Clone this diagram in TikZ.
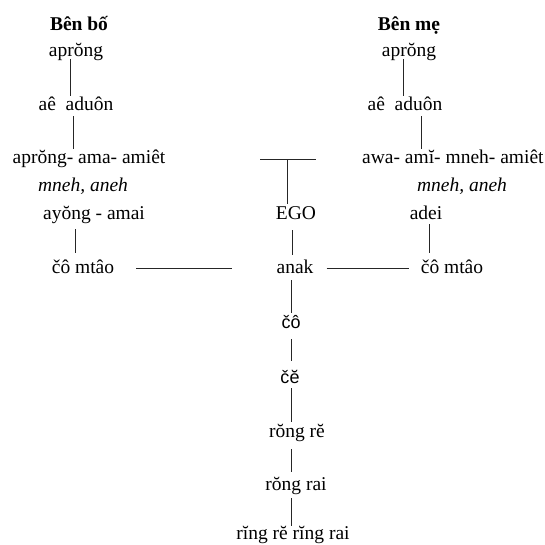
\documentclass[tikz,border=0pt]{standalone}
\usepackage{fontspec}
\setmainfont{Liberation Serif}
\newfontfamily\sansf{Liberation Sans}
\tikzset{
  lbl/.style={inner sep=1pt, text height=14pt, text depth=4pt, font=\fontsize{19.5}{22}\selectfont},
  hd/.style={lbl, font=\fontsize{19.5}{22}\selectfont\bfseries},
  it/.style={lbl, font=\fontsize{19.5}{22}\selectfont\itshape},
  sn/.style={lbl, font=\fontsize{18}{22}\selectfont\sansf},
  ln/.style={line width=1pt, draw=black!85}
}
\begin{document}
\begin{tikzpicture}[x=1pt,y=-1pt]
\useasboundingbox (0,0) rectangle (545,545);
% headers
\node[hd] (Lh) at (79,26) {Bên bố};
\node[hd] (Rh) at (409,26) {Bên mẹ};
% left column
\node[lbl] (La1) at (76,52) {aprŏng};
\node[lbl] (La2) at (76,106) {aê\ \ aduôn};
\node[lbl] (La3) at (89,159) {aprŏng- ama- amiêt};
\node[it]  (Lm)  at (83,187) {mneh, aneh};
\node[lbl] (La4) at (94,214) {ayŏng - amai};
\node[lbl] (La5) at (83,268) {čô mtâo};
% right column
\node[lbl] (Ra1) at (409,52) {aprŏng};
\node[lbl] (Ra2) at (405,106) {aê\ \ aduôn};
\node[lbl,anchor=west] (Ra3) at (361,159) {awa- amĭ- mneh- amiêt};
\node[it]  (Rm)  at (462,187) {mneh, aneh};
\node[lbl] (Ra4) at (426,214) {adei};
\node[lbl] (Ra5) at (452,268) {čô mtâo};
% center
\node[lbl] (ego) at (296,214) {EGO};
\node[lbl] (anak) at (295,268) {anak};
\node[sn] (c1) at (291,323) {čô};
\node[sn] (c2) at (290,378) {čĕ};
\node[lbl] (c3) at (297,432) {rŏng rĕ};
\node[lbl] (c4) at (296,485) {rŏng rai};
\node[lbl] (c5) at (293,534) {rĭng rĕ rĭng rai};
% T bar
\coordinate (Tl) at (260,160);
\coordinate (Tr) at (316,160);
\coordinate (Tm) at (287,160);
\draw[ln] (Tl) -- (Tr);
\draw[ln] (Tm) -- (Tm |- ego.north);
% left verticals
\coordinate (p1) at ([xshift=-6pt]La1.south);
\draw[ln, shorten <=-3pt] (p1) -- (p1 |- La2.north);
\coordinate (p2) at ([xshift=-3pt]La2.south);
\draw[ln] (p2) -- (p2 |- La3.north);
\coordinate (p3) at ([xshift=-19pt]La4.south);
\draw[ln, shorten <=5pt, shorten >=5pt] (p3) -- (p3 |- La5.north);
% right verticals
\coordinate (q1) at ([xshift=-6pt]Ra1.south);
\draw[ln, shorten <=-3pt] (q1) -- (q1 |- Ra2.north);
\coordinate (q2) at ([xshift=16pt]Ra2.south);
\draw[ln] (q2) -- (q2 |- Ra3.north);
\coordinate (q3) at ([xshift=3pt]Ra4.south);
\draw[ln, shorten >=5pt] (q3) -- (q3 |- Ra5.north);
% center verticals
\coordinate (m1) at ([xshift=-4pt]ego.south);
\draw[ln, shorten <=6pt, shorten >=3pt] (m1) -- (m1 |- anak.north);
\coordinate (m2) at ([xshift=-4pt]anak.south);
\draw[ln, shorten <=2pt] (m2) -- (m2 |- c1.north);
\coordinate (m3) at (c1.south);
\draw[ln, shorten <=6pt, shorten >=7pt] (m3) -- (m3 |- c2.north);
\coordinate (m4) at ([xshift=1pt]c2.south);
\draw[ln] (m4) -- (m4 |- c3.north);
\coordinate (m5) at ([xshift=-6pt]c3.south);
\draw[ln, shorten <=7pt, shorten >=3pt] (m5) -- (m5 |- c4.north);
\coordinate (m6) at ([xshift=-5pt]c4.south);
\draw[ln, shorten <=3pt, shorten >=-2pt] (m6) -- (m6 |- c5.north);
% horizontals
\draw[ln, shorten <=21pt, shorten >=43pt] (La5.east) -- (La5.east -| anak.west);
\draw[ln, shorten <=12pt, shorten >=11pt] (anak.east) -- (anak.east -| Ra5.west);
\end{tikzpicture}
\end{document}
